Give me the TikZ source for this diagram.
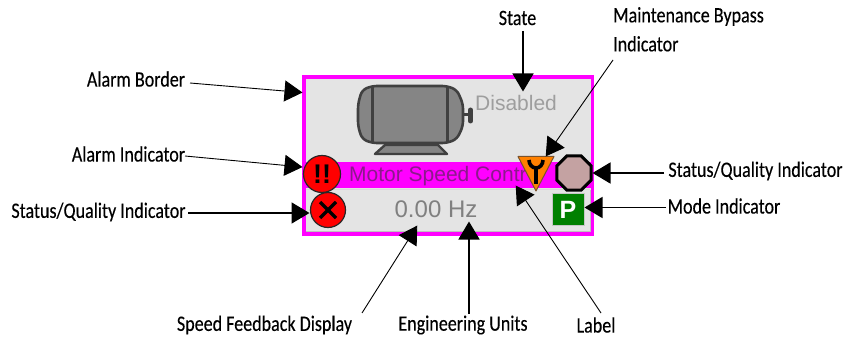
\documentclass[tikz,border=0pt]{standalone}
\usepackage{fontspec}
\setmainfont{Carlito}[FakeStretch=0.82,FakeBold=0.25]
\setsansfont{Liberation Sans}
\usetikzlibrary{arrows.meta,shapes.geometric}
\definecolor{facegray}{HTML}{E4E4E4}
\definecolor{hotpink}{HTML}{FF00FF}
\definecolor{motorgray}{HTML}{858585}
\definecolor{motoredge}{HTML}{404040}
\definecolor{bandtext}{HTML}{8B1A8B}
\definecolor{stoprose}{HTML}{C4A2A2}
\definecolor{modegreen}{HTML}{008000}
\tikzset{
    callout/.style={font=\fontsize{22}{26}\selectfont,inner sep=0pt,align=left},
    pointer/.style={-{Triangle[length=18pt,width=21pt]},line width=0.9pt,shorten >=-0.5pt},
    heavy/.style={line width=1.6pt},
    faceval/.style={font=\sffamily\fontsize{21}{24}\selectfont,inner sep=0pt}
}
\begin{document}
\begin{tikzpicture}[x=1pt,y=-1pt]
            \useasboundingbox (0,0) rectangle (856,339);
            \fill[white] (0,0) rectangle (856,339);
            \draw[hotpink,line width=3.5pt,fill=facegray] (304,77) rectangle (592.5,234);
            \draw[black!25,line width=1pt] (306,231.5)--(590,231.5)--(590,190);
            \fill[hotpink] (305,162) rectangle (591,188);
            \draw[white!85!black,line width=1.5pt] (306,189.5)--(590,189.5);
            \draw[motoredge,fill=motorgray,line width=2.6pt,rounded corners=5pt] (372,86)--(447,86)--(457,90)--(463,104)--(463,126)--(457,139)--(447,143)--(372,143)--(362,139)--(358,126)--(358,104)--(362,90)--cycle;
            \draw[motoredge,line width=3pt] (372,86)--(372,143);
            \draw[motoredge,line width=3pt] (447,86)--(447,143);
            \draw[motoredge,line width=3pt] (463,115)--(470,115);
            \draw[motoredge,line width=5pt,line cap=round] (470.5,110)--(470.5,121);
            \draw[motoredge,fill=motorgray,line width=2.4pt,line join=round] (385,145)--(438,145)--(447,154)--(375,154)--cycle;
            \node[faceval,text=black!38,anchor=west] (stateval) at (475,103) {Disabled};
            \node[faceval,text=bandtext,anchor=west] (tagname) at (349,176) {Motor Speed Contr};
            \node[faceval,text=black!50,anchor=center,font=\sffamily\fontsize{24}{24}\selectfont] (speedval) at (436,209) {0.00 Hz};
            \draw[motoredge!60!black,line width=1.2pt,fill=red] (322,174) circle (18.5);
            \node[font=\sffamily\bfseries\fontsize{27}{27}\selectfont,inner sep=0pt] (alarmmark) at (322,174) {!!};
            \draw[motoredge!60!black,line width=1.2pt,fill=red] (328,210) circle (17.5);
            \draw[line width=3.2pt] (320,202)--(336,218);
            \draw[line width=3.2pt] (336,202)--(320,218);
            \draw[motoredge!70!orange,line width=1pt,fill=orange,line join=round] (518,156.5)--(554,156.5)--(536,191)--cycle;
            \draw[line width=4pt] (536,168)--(536,184);
            \draw[line width=3.6pt] (543,160) arc (0:180:7 and 8);
            \node[regular polygon,regular polygon sides=8,draw=black,line width=3pt,fill=stoprose,minimum size=37pt,inner sep=0pt] (qualright) at (574,173) {};
            \node[draw=motoredge!30,fill=modegreen,text=white,minimum size=32pt,inner sep=0pt,font=\sffamily\bfseries\fontsize{25}{25}\selectfont] (modebox) at (568,209.5) {P};
            \coordinate (bordertip) at (302,92.5);
            \coordinate (alarmtip) at (302,167);
            \coordinate (qualtip) at (309,213);
            \coordinate (speedtip) at (417,226);
            \coordinate (unitstip) at (469,222);
            \coordinate (labeltip) at (516,186);
            \coordinate (statetip) at (523,91);
            \coordinate (bypasstip) at (546,156);
            \coordinate (qualrtip) at (593,173);
            \coordinate (modetip) at (585,207.5);
            \coordinate (borderfrom) at (190,83);
            \coordinate (alarmfrom) at (185,156);
            \coordinate (qualfrom) at (188,213);
            \coordinate (bypassfrom) at (613,60);
            \coordinate (speedfrom) at (362,313);
            \coordinate (unitsfrom) at (469,314);
            \coordinate (labelfrom) at (601,313);
            \coordinate (statefrom) at (523,31);
            \coordinate (qualrfrom) at (664,173);
            \coordinate (modefrom) at (666,207.5);
            \node[callout,anchor=center] (lblborder) at (136,79) {Alarm Border};
            \node[callout,anchor=center] (lblalarm) at (128.5,154) {Alarm Indicator};
            \node[callout,anchor=center] (lblqual) at (98.5,212) {Status/Quality Indicator};
            \node[callout,anchor=center] (lblspeed) at (264.5,325) {Speed Feedback Display};
            \node[callout,anchor=center] (lblunits) at (463,325) {Engineering Units};
            \node[callout,anchor=center] (lbllabel) at (596,325) {Label};
            \node[callout,anchor=center] (lblstate) at (517.5,18) {State};
            \node[callout,anchor=north west] (lblbypass) at (613,7) {Maintenance Bypass\\[3pt]Indicator};
            \node[callout,anchor=center] (lblqualr) at (755.5,171) {Status/Quality Indicator};
            \node[callout,anchor=center] (lblmode) at (724,206) {Mode Indicator};
            \draw[pointer] (borderfrom)--(bordertip);
            \draw[pointer] (alarmfrom)--(alarmtip);
            \draw[pointer,heavy] (qualfrom)--(qualtip);
            \draw[pointer] (speedfrom)--(speedtip);
            \draw[pointer,heavy] (unitsfrom)--(unitstip);
            \draw[pointer] (labelfrom)--(labeltip);
            \draw[pointer,heavy] (statefrom)--(statetip);
            \draw[pointer] (bypassfrom)--(bypasstip);
            \draw[pointer,heavy] (qualrfrom)--(qualrtip);
            \draw[pointer,heavy] (modefrom)--(modetip);
        \end{tikzpicture}
\end{document}
